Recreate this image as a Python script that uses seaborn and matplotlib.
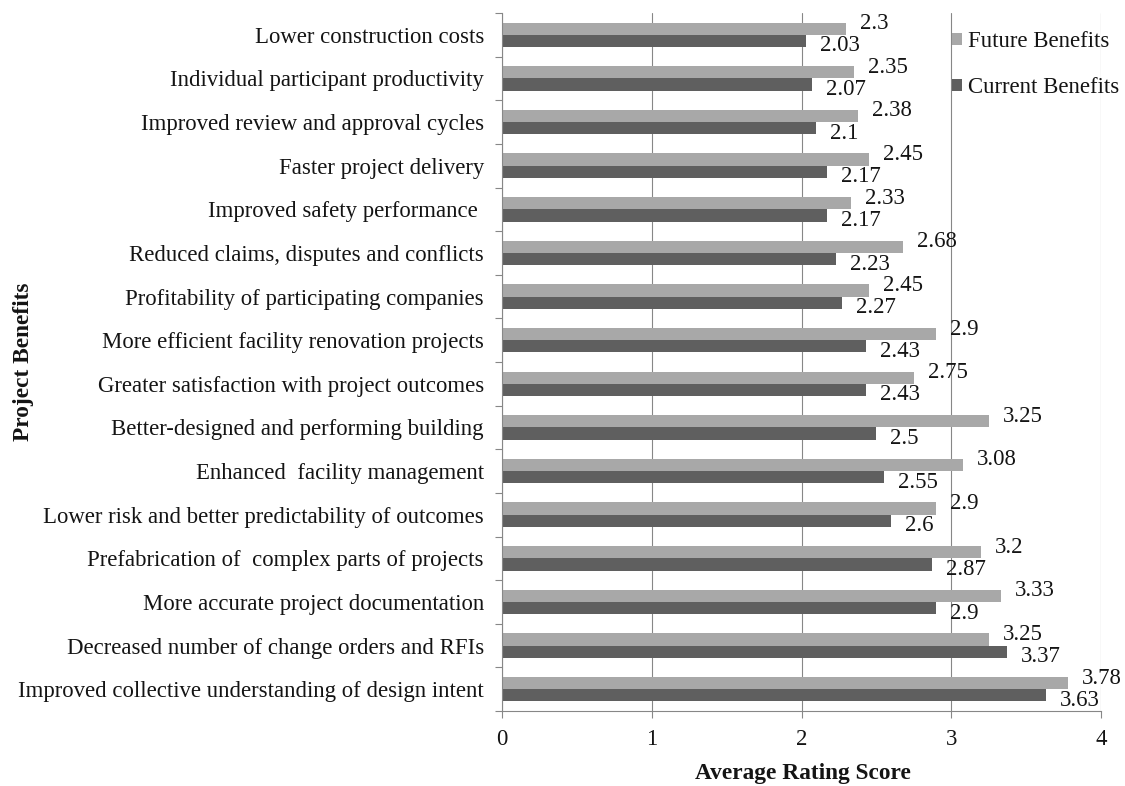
import numpy as np
import pandas as pd
import matplotlib
matplotlib.use("Agg")
import matplotlib.pyplot as plt
from matplotlib.patches import Patch
from matplotlib.ticker import FixedLocator
import seaborn as sns

# Survey results: average rating (0-4) per project benefit
benefits = [
    "Lower construction costs",
    "Individual participant productivity",
    "Improved review and approval cycles",
    "Faster project delivery",
    "Improved safety performance ",
    "Reduced claims, disputes and conflicts",
    "Profitability of participating companies",
    "More efficient facility renovation projects",
    "Greater satisfaction with project outcomes",
    "Better-designed and performing building",
    "Enhanced  facility management",
    "Lower risk and better predictability of outcomes",
    "Prefabrication of  complex parts of projects",
    "More accurate project documentation",
    "Decreased number of change orders and RFIs",
    "Improved collective understanding of design intent",
]
future_scores = [2.3, 2.35, 2.38, 2.45, 2.33, 2.68, 2.45, 2.9, 2.75, 3.25,
                 3.08, 2.9, 3.2, 3.33, 3.25, 3.78]
current_scores = [2.03, 2.07, 2.1, 2.17, 2.17, 2.23, 2.27, 2.43, 2.43, 2.5,
                  2.55, 2.6, 2.87, 2.9, 3.37, 3.63]
series_names = ["Future Benefits", "Current Benefits"]
x_ticks = [0, 1, 2, 3, 4]

LIGHT = "#A8A8A8"
DARK = "#5F5F5F"
GRID = "#878787"
TEXT = "#141414"
FS = 16.4
FS_TITLE = 16.8

sns.set_style("white")
plt.rcParams["font.family"] = ["Liberation Serif", "DejaVu Serif"]

n = len(benefits)
df = pd.DataFrame({
    "Benefit": benefits * 2,
    "Score": future_scores + current_scores,
    "Series": [series_names[0]] * n + [series_names[1]] * n,
})

W, H = 1125, 786
fig = plt.figure(figsize=(W / 100, H / 100), dpi=100)
ax = fig.add_axes([502 / W, 1 - 711 / H, (1101 - 502) / W, (711 - 13) / H])

sns.barplot(data=df, y="Benefit", x="Score", hue="Series",
            order=benefits, hue_order=series_names,
            palette=[LIGHT, DARK], orient="h", width=0.56, gap=0,
            saturation=1, errorbar=None, legend=False, linewidth=0,
            edgecolor="none", ax=ax)

ax.set_xlim(0, 4)
ax.set_xticks(x_ticks)
ax.xaxis.grid(True, color=GRID, linewidth=0.8)
ax.yaxis.grid(False)
ax.set_axisbelow(True)

for side in ("top", "right"):
    ax.spines[side].set_visible(False)
for side in ("left", "bottom"):
    ax.spines[side].set_color(GRID)
    ax.spines[side].set_linewidth(0.8)

ax.tick_params(axis="x", bottom=True, length=5, width=0.8, color=GRID,
               pad=8, labelsize=FS, labelcolor=TEXT)
ax.tick_params(axis="y", which="major", left=True, length=0, pad=13,
               labelsize=FS, labelcolor=TEXT)
ax.yaxis.set_minor_locator(FixedLocator(np.arange(-0.5, n, 1.0)))
ax.tick_params(axis="y", which="minor", left=True, length=5, width=0.8,
               color=GRID)

# value labels at the end of each bar: future above, current below
for container, vals, dy in zip(ax.containers, [future_scores, current_scores], [5, -5]):
    for bar, v in zip(container, vals):
        ax.annotate(f"{v:g}",
                    xy=(bar.get_width(), bar.get_y() + bar.get_height() / 2),
                    xytext=(14, dy), textcoords="offset pixels",
                    ha="left", va="center", fontsize=FS, color=TEXT,
                    annotation_clip=False)

ax.set_xlabel("Average Rating Score", fontsize=FS_TITLE, fontweight="bold", color=TEXT)
ax.xaxis.label.set_va("center")
ax.xaxis.set_label_coords((803 - 502) / 599, (711 - 774) / 698)
ax.set_ylabel("Project Benefits", fontsize=FS_TITLE, fontweight="bold", color=TEXT)
ax.yaxis.label.set_va("center")
ax.yaxis.set_label_coords((24 - 502) / 599, 0.5)

handles = [Patch(facecolor=LIGHT, edgecolor="none"),
           Patch(facecolor=DARK, edgecolor="none")]
fig.legend(handles, series_names, loc="upper left",
           bbox_to_anchor=(952 / W, 1 - 31 / H), frameon=False,
           borderpad=0, borderaxespad=0, handlelength=0.42, handleheight=0.42,
           handletextpad=0.3, labelspacing=1.1, fontsize=FS,
           labelcolor=TEXT)

fig.savefig("out.png", dpi=100)
